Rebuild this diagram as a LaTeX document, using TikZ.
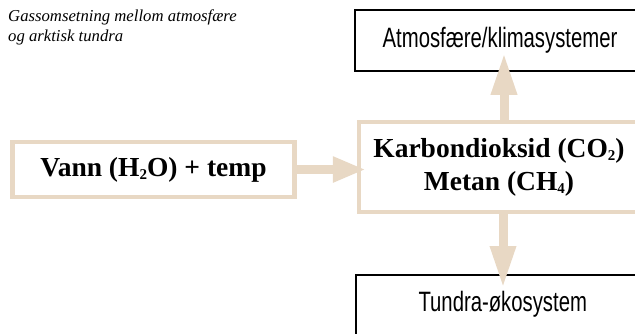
\documentclass[tikz,border=0pt]{standalone}
\usepackage{fontspec}
\setmainfont{Liberation Serif}
\newfontfamily\condsans[FakeStretch=0.725]{Liberation Sans}
\usetikzlibrary{arrows.meta}
\definecolor{beige}{RGB}{232,216,196}
\newcommand{\lowsub}[1]{\raisebox{-0.28ex}{\fontsize{15}{15}\selectfont #1}}
\tikzset{
  blackbox/.style={draw=black, line width=1.5pt, inner sep=0pt, font=\condsans\fontsize{28}{30}\selectfont},
  beigebox/.style={draw=beige, line width=4.5pt, inner sep=0pt, align=center, font=\bfseries\fontsize{27.5}{33}\selectfont},
  flow/.style={draw=beige, line width=9pt, -{Triangle[width=24pt,length=42pt]}, color=beige},
}
\begin{document}
\begin{tikzpicture}[x=1pt,y=-1pt]
\useasboundingbox (0,0) rectangle (635,333);
\clip (0,0) rectangle (635,333);
\node[anchor=north west, inner sep=0pt, align=left, font=\itshape\fontsize{16.7}{20}\selectfont] (title) at (8,10) {Gassomsetning mellom atmosfære\\og arktisk tundra};
\node[blackbox, minimum width=290pt, minimum height=61pt] (atm) at (500,40.5) {Atmosfære/klimasystemer};
\node[blackbox, anchor=north west, minimum width=294pt, text height=37pt, text depth=30pt] (tundra) at (355,274) {Tundra-økosystem};
\node[beigebox, minimum width=280pt, minimum height=90pt] (carbon) at (499,167) {Karbondioksid (CO\lowsub{2})\\Metan (CH\lowsub{4})};
\node[beigebox, minimum width=282pt, minimum height=55pt] (vann) at (153.5,169.5) {Vann (H\lowsub{2}O) + temp};
\coordinate (upend) at ([xshift=4pt,yshift=19pt]atm.south);
\coordinate (downend) at ([xshift=4pt,yshift=-14pt]carbon.south |- tundra.north west);
\draw[flow, -{Triangle[width=24pt,length=33pt]}] (vann.east) -- ([xshift=9pt]carbon.west |- vann.east);
\draw[flow] (carbon.north -| upend) -- (upend);
\draw[flow] (carbon.south -| downend) -- (downend);
\end{tikzpicture}
\end{document}
